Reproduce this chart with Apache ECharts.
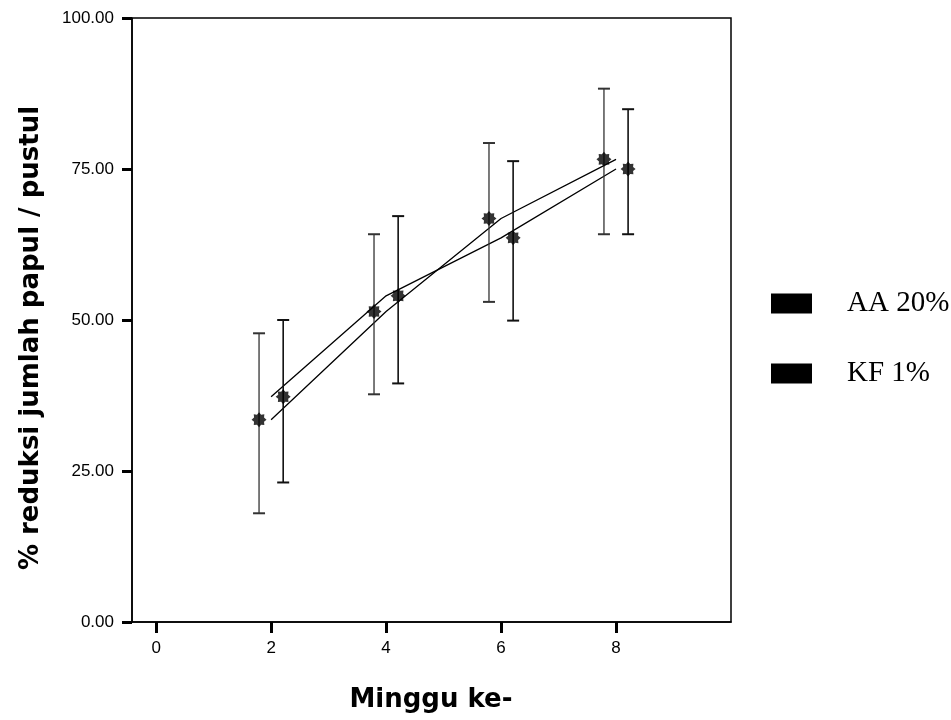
<!DOCTYPE html>
<html>
<head>
<meta charset="utf-8">
<script src="https://cdn.jsdelivr.net/npm/echarts@6/dist/echarts.min.js"></script>
<style>html,body{margin:0;padding:0;background:#fff;}#c{width:951px;height:720px;}</style>
</head>
<body>
<div id="c"></div>
<script>
// ---- data ----
const weeks = [2, 4, 6, 8];
const aaMean = [33.5, 51.4, 66.8, 76.6];
const aaLow  = [18.0, 37.7, 53.0, 64.2];
const aaHigh = [47.8, 64.2, 79.3, 88.3];
const kfMean = [37.3, 54.0, 63.6, 75.0];
const kfLow  = [23.1, 39.5, 49.9, 64.2];
const kfHigh = [50.0, 67.2, 76.3, 84.9];
const xTicks = [0, 2, 4, 6, 8];
const yTicks = [0, 25, 50, 75, 100];
const seriesNames = ['AA 20%', 'KF 1%'];
const xTitle = 'Minggu ke-';
const yTitle = '% reduksi jumlah papul / pustul';

// ---- style ----
const DODGE = 0.21;
function starPath(n, r1, r2) {
  let d = '';
  for (let k = 0; k < 2 * n; k++) {
    const a = Math.PI * k / n;
    const r = k % 2 === 0 ? r1 : r2;
    const x = (50 + r * Math.sin(a)).toFixed(2), y = (50 - r * Math.cos(a)).toFixed(2);
    d += (k === 0 ? 'M' : 'L') + x + ' ' + y + ' ';
  }
  return 'path://' + d + 'Z';
}
const STAR = starPath(8, 50, 36);

function errItem(color, lw) {
  return function (params, api) {
    const x = api.value(0), lo = api.value(1), hi = api.value(2);
    const p1 = api.coord([x, hi]), p2 = api.coord([x, lo]);
    const w = 6;
    return {
      type: 'group',
      children: [
        { type: 'line', shape: { x1: p1[0], y1: p1[1], x2: p2[0], y2: p2[1] }, style: { stroke: color, lineWidth: lw } },
        { type: 'line', shape: { x1: p1[0] - w, y1: p1[1], x2: p1[0] + w, y2: p1[1] }, style: { stroke: color, lineWidth: 2 } },
        { type: 'line', shape: { x1: p2[0] - w, y1: p2[1], x2: p2[0] + w, y2: p2[1] }, style: { stroke: color, lineWidth: 2 } }
      ]
    };
  };
}

const chart = echarts.init(document.getElementById('c'), null, { renderer: 'canvas' });
const legendBase = {
  orient: 'vertical', left: 766, icon: 'rect', itemWidth: 41, itemHeight: 20,
  textStyle: { fontFamily: 'Liberation Serif', fontSize: 29, color: '#000', padding: [0, 0, 0, 30] },
  selectedMode: false
};
chart.setOption({
  animation: false,
  backgroundColor: '#fff',
  grid: { left: 132, top: 18, width: 599, height: 604, show: true, borderColor: '#000', borderWidth: 1.5, backgroundColor: 'transparent' },
  legend: [
    Object.assign({}, legendBase, { top: 284, data: [seriesNames[0]] }),
    Object.assign({}, legendBase, { top: 354, data: [seriesNames[1]] })
  ],
  xAxis: {
    type: 'value', min: -0.42, max: 10,
    axisLine: { show: true, onZero: false, lineStyle: { color: '#000', width: 1.5 } },
    axisTick: { show: true, customValues: xTicks, length: 11, lineStyle: { color: '#000', width: 3 } },
    axisLabel: { customValues: xTicks, margin: 18, fontFamily: 'Liberation Sans', fontSize: 17, color: '#000', formatter: v => String(v) },
    splitLine: { show: false }
  },
  yAxis: {
    type: 'value', min: 0, max: 100, interval: 25,
    axisLine: { show: true, onZero: false, lineStyle: { color: '#000', width: 1.5 } },
    axisTick: { show: true, length: 10, lineStyle: { color: '#000', width: 3 } },
    axisLabel: { margin: 18, fontFamily: 'Liberation Sans', fontSize: 17, color: '#000', formatter: v => yTicks.includes(v) ? v.toFixed(2) : '' },
    splitLine: { show: false }
  },
  graphic: [
    { type: 'text', x: 431, y: 700, style: { text: xTitle, font: 'bold 26px "DejaVu Sans"', fill: '#000', textAlign: 'center', textVerticalAlign: 'middle' } },
    { type: 'text', x: 31, y: 338, rotation: Math.PI / 2, style: { text: yTitle, font: 'bold 26px "DejaVu Sans"', fill: '#000', textAlign: 'center', textVerticalAlign: 'middle' } }
  ],
  series: [
    { name: seriesNames[0], type: 'line', data: weeks.map((w, i) => [w, aaMean[i]]), showSymbol: false, itemStyle: { color: '#000' }, lineStyle: { color: '#000', width: 1.3 }, z: 2 },
    { name: seriesNames[1], type: 'line', data: weeks.map((w, i) => [w, kfMean[i]]), showSymbol: false, itemStyle: { color: '#000' }, lineStyle: { color: '#000', width: 1.3 }, z: 2 },
    { name: 'aaErr', type: 'custom', renderItem: errItem('#333', 1.3), data: weeks.map((w, i) => [w - DODGE, aaLow[i], aaHigh[i]]), encode: { x: 0, y: [1, 2] }, z: 3 },
    { name: 'kfErr', type: 'custom', renderItem: errItem('#111', 1.6), data: weeks.map((w, i) => [w + DODGE, kfLow[i], kfHigh[i]]), encode: { x: 0, y: [1, 2] }, z: 3 },
    { name: 'aaPts', type: 'scatter', symbol: STAR, symbolSize: 15, itemStyle: { color: '#000' }, data: weeks.map((w, i) => [w - DODGE, aaMean[i]]), z: 4 },
    { name: 'kfPts', type: 'scatter', symbol: STAR, symbolSize: 15, itemStyle: { color: '#000' }, data: weeks.map((w, i) => [w + DODGE, kfMean[i]]), z: 4 }
  ]
});
</script>
</body>
</html>
